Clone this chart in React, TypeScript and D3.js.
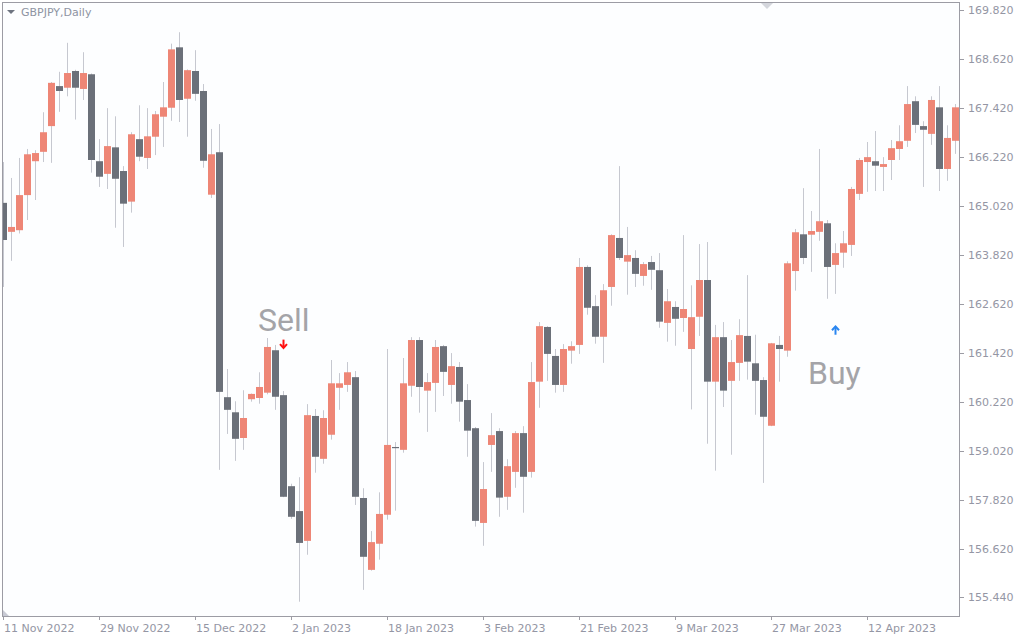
import React from "react";
import * as d3 from "d3";

// ---- data ----
const symbolLabel = "GBPJPY,Daily";
const firstDay = "2022-11-11";
const lastDayExclusive = "2023-04-28";

const openVals = [
  165.10, 164.39, 164.43, 165.29, 166.12, 166.35, 166.98, 167.96, 167.92, 168.33,
  167.89, 168.25, 166.12, 165.81, 166.46, 165.88, 165.13, 166.66, 166.20, 166.72,
  167.21, 167.43, 168.91, 167.65, 168.33, 167.84, 165.30, 166.34, 160.34, 159.97,
  159.34, 160.29, 160.32, 160.45, 161.49, 160.39, 158.16, 157.55, 156.82, 159.88,
  158.83, 159.42, 160.57, 160.64, 160.83, 157.87, 156.11, 156.75, 157.46, 159.12,
  159.05, 160.62, 161.74, 160.50, 160.69, 161.59, 160.64, 161.08, 160.27, 159.58,
  157.26, 159.17, 159.51, 157.90, 158.51, 159.46, 158.51, 160.72, 162.06, 161.35,
  160.64, 161.48, 161.62, 163.53, 162.57, 161.82, 163.04, 164.24, 163.66, 163.75,
  163.31, 163.65, 163.45, 162.16, 162.55, 162.28, 161.52, 162.31, 163.21, 160.72,
  161.81, 160.74, 161.18, 161.84, 161.17, 160.76, 159.64, 161.62, 161.48, 163.43,
  164.33, 164.32, 164.39, 164.60, 163.58, 163.88, 164.07, 165.32, 166.10, 166.12,
  165.98, 166.15, 166.42, 166.62, 167.59, 166.98, 166.79, 167.44, 165.93, 166.62,
];
const highVals = [
  166.10, 165.71, 166.20, 166.42, 166.39, 167.32, 168.06, 168.31, 169.02, 168.36,
  168.79, 168.27, 166.66, 167.42, 167.22, 166.00, 166.83, 167.49, 167.42, 167.35,
  168.06, 169.00, 169.28, 168.37, 168.84, 168.01, 166.91, 167.03, 161.03, 160.24,
  160.51, 160.43, 160.95, 161.79, 161.62, 160.49, 158.22, 158.38, 160.17, 160.05,
  160.02, 161.25, 160.93, 161.20, 160.98, 158.11, 157.06, 158.01, 161.52, 159.24,
  161.30, 161.81, 161.81, 160.93, 161.74, 161.62, 161.42, 161.20, 160.66, 159.61,
  158.75, 159.95, 159.58, 158.82, 159.51, 159.63, 161.20, 162.18, 162.08, 161.52,
  161.64, 161.71, 163.75, 163.57, 162.84, 163.11, 164.33, 166.00, 164.51, 163.94,
  163.65, 163.80, 163.87, 162.99, 162.69, 164.31, 163.08, 164.09, 164.14, 162.11,
  162.18, 161.74, 162.25, 163.33, 161.87, 160.83, 161.67, 161.84, 163.67, 164.46,
  165.46, 164.90, 166.42, 164.68, 164.11, 164.41, 165.49, 166.20, 166.59, 166.86,
  166.22, 166.64, 167.00, 167.96, 167.71, 167.10, 167.71, 167.96, 167.00, 167.52,
];
const lowVals = [
  163.04, 163.68, 164.35, 164.68, 165.17, 166.10, 166.08, 167.33, 167.71, 167.14,
  167.62, 165.84, 165.49, 165.44, 164.49, 164.02, 164.86, 166.12, 165.93, 166.27,
  166.47, 167.11, 167.08, 166.72, 167.60, 165.96, 165.22, 158.56, 159.44, 158.78,
  159.05, 160.23, 160.18, 160.41, 160.03, 157.89, 157.36, 155.33, 156.48, 158.49,
  158.71, 159.30, 160.03, 160.47, 157.70, 155.62, 156.09, 156.36, 157.34, 157.56,
  158.98, 160.35, 159.96, 159.49, 159.98, 160.37, 160.18, 159.74, 158.88, 157.17,
  156.70, 158.51, 157.41, 157.58, 158.12, 157.51, 158.37, 160.08, 160.74, 160.45,
  160.47, 161.16, 161.40, 162.36, 161.65, 161.18, 162.58, 163.70, 162.85, 163.04,
  163.07, 162.97, 162.04, 161.70, 161.60, 161.94, 160.04, 161.84, 159.20, 158.54,
  160.10, 158.93, 160.74, 160.77, 159.91, 158.24, 159.63, 160.72, 161.33, 162.95,
  163.60, 163.41, 164.17, 162.75, 162.87, 163.51, 163.80, 165.17, 165.37, 165.39,
  165.39, 165.66, 166.15, 166.47, 166.81, 165.49, 166.52, 165.39, 165.64, 166.30,
];
const closeVals = [
  164.19, 164.51, 165.29, 166.29, 166.32, 166.83, 168.04, 167.84, 168.28, 167.92,
  168.28, 166.15, 165.74, 166.49, 165.69, 165.08, 166.78, 166.23, 166.73, 167.27,
  167.44, 168.86, 167.62, 168.35, 167.77, 166.13, 166.29, 160.47, 160.03, 159.32,
  159.83, 160.42, 160.59, 161.57, 160.35, 157.90, 157.41, 156.77, 159.90, 158.88,
  159.83, 160.68, 160.68, 160.95, 157.90, 156.43, 156.79, 157.48, 159.17, 159.10,
  160.68, 161.74, 160.59, 160.71, 161.57, 160.96, 161.10, 160.23, 159.52, 157.31,
  158.09, 159.41, 157.88, 158.65, 159.46, 158.39, 160.71, 162.08, 161.40, 160.64,
  161.52, 161.59, 163.53, 162.53, 161.82, 162.96, 164.31, 163.75, 163.82, 163.36,
  163.60, 163.46, 162.19, 162.69, 162.26, 162.50, 162.30, 163.21, 160.72, 161.81,
  160.50, 161.20, 161.86, 161.21, 160.74, 159.86, 161.66, 161.52, 163.62, 164.38,
  163.75, 164.41, 164.65, 163.53, 163.87, 164.11, 165.44, 166.15, 166.22, 166.01,
  166.05, 166.44, 166.61, 167.52, 167.01, 166.89, 167.62, 165.93, 166.69, 167.44,
];

const priceTicks = [169.82, 168.62, 167.42, 166.22, 165.02, 163.82, 162.62, 161.42, 160.22, 159.02, 157.82, 156.62, 155.44];
const dateTickLabels = ["11 Nov 2022", "29 Nov 2022", "15 Dec 2022", "2 Jan 2023", "18 Jan 2023", "3 Feb 2023", "21 Feb 2023", "9 Mar 2023", "27 Mar 2023", "12 Apr 2023"];

const signalLabels = ["Sell", "Buy"];
const signalDates = ["2022-12-30", "2023-04-06"];
const signalPrices = [161.64, 161.98];

// ---- layout ----
const W = 1024;
const H = 640;
const plotLeft = 2;
const plotTop = 2;
const plotRight = 960;
const plotBottom = 616;

const BULL = "#EE8676";
const BEAR = "#6B7079";
const WICK = "#C6C8D0";
const AXIS = "#9C9CA4";
const TEXT = "#9496A4";

const fmtKey = d3.timeFormat("%Y-%m-%d");
const parseKey = d3.timeParse("%Y-%m-%d");
const parseLabel = d3.timeParse("%e %b %Y");

const days = d3
  .timeDays(parseKey(firstDay)!, parseKey(lastDayExclusive)!)
  .filter((d) => d.getDay() !== 0 && d.getDay() !== 6)
  .map(fmtKey);

export default function App() {
  const x = d3.scaleBand<string>().domain(days).range([plotLeft - 2.5, plotRight - 0.5]).padding(0);
  const y = d3.scaleLinear().domain([154.98, 170.02]).range([plotBottom, plotTop]);
  const bw = x.bandwidth();
  const cx = (k: string) => (x(k) as number) + bw / 2;

  const candles = days.map((k, i) => ({
    k,
    o: openVals[i],
    h: highVals[i],
    l: lowVals[i],
    c: closeVals[i],
  }));

  return (
    <svg
      width={W}
      height={H}
      style={{ position: "fixed", left: 0, top: 0, background: "#FFFFFF" }}
      fontFamily="'DejaVu Sans', sans-serif"
    >
      <defs>
        <clipPath id="plotClip">
          <rect x={plotLeft + 0.5} y={plotTop + 0.5} width={plotRight - plotLeft - 1} height={plotBottom - plotTop - 1} />
        </clipPath>
      </defs>
      <rect x={0} y={0} width={W} height={H} fill="#FFFFFF" />
      <rect x={plotLeft} y={plotTop} width={plotRight - plotLeft} height={plotBottom - plotTop} fill="#FDFEFF" />

      <g clipPath="url(#plotClip)">
        {candles.map((d) => (
          <line
            key={"w" + d.k}
            x1={cx(d.k)}
            x2={cx(d.k)}
            y1={y(d.h)}
            y2={y(d.l)}
            stroke={WICK}
            strokeWidth={1}
          />
        ))}
        {candles.map((d) => {
          const top = y(Math.max(d.o, d.c));
          const bot = y(Math.min(d.o, d.c));
          return (
            <rect
              key={"b" + d.k}
              x={(x(d.k) as number) + 0.5}
              y={top}
              width={bw - 1}
              height={Math.max(1.2, bot - top)}
              fill={d.c > d.o ? BULL : BEAR}
            />
          );
        })}
      </g>

      {/* signals */}
      {signalLabels.map((lab, i) => {
        const ax = cx(signalDates[i]);
        const ay = y(signalPrices[i]);
        const sell = lab === "Sell";
        const col = sell ? "#FF1010" : "#2A86F0";
        const dir = sell ? 1 : -1;
        return (
          <g key={lab}>
            <line x1={ax} x2={ax} y1={ay - 4.5 * dir} y2={ay + 3.5 * dir} stroke={col} strokeWidth={2} />
            <polyline
              points={`${ax - 3.5},${ay} ${ax},${ay + 3.8 * dir} ${ax + 3.5},${ay}`}
              fill="none"
              stroke={col}
              strokeWidth={2}
            />
            <text
              x={sell ? ax - 25.5 : ax - 27.5}
              y={sell ? ay - 13 : ay + 54}
              fontFamily="Roboto, 'Liberation Sans', sans-serif"
              fontSize={32}
              fill="#A4A4A8"
            >
              {lab}
            </text>
          </g>
        );
      })}

      {/* frame */}
      <rect
        x={plotLeft + 0.5}
        y={plotTop + 0.5}
        width={plotRight - plotLeft - 1}
        height={plotBottom - plotTop}
        fill="none"
        stroke={AXIS}
        strokeWidth={1}
      />

      {/* top marker and corner */}
      <path d={`M761,${plotTop + 1} L773,${plotTop + 1} L767,${plotTop + 7} Z`} fill="#D4D6DC" />
      <path d={`M${plotLeft + 1},${plotBottom - 6} L${plotLeft + 7},${plotBottom} L${plotLeft + 1},${plotBottom} Z`} fill="#C8CAD4" />

      {/* price axis */}
      {priceTicks.map((p) => (
        <g key={"p" + p}>
          <line x1={plotRight} x2={plotRight + 4} y1={Math.round(y(p)) + 0.5} y2={Math.round(y(p)) + 0.5} stroke={AXIS} />
          <text x={plotRight + 8} y={y(p) + 4} fontSize={11} fill={TEXT}>
            {p.toFixed(3)}
          </text>
        </g>
      ))}

      {/* time axis */}
      {dateTickLabels.map((lab) => {
        const k = fmtKey(parseLabel(lab)!);
        const tx = Math.round(cx(k) - 0.5) + 0.5;
        return (
          <g key={lab}>
            <line x1={tx} x2={tx} y1={plotBottom} y2={plotBottom + 4} stroke={AXIS} />
            <text x={tx + 0.5} y={632} fontSize={11} fill={TEXT}>
              {lab}
            </text>
          </g>
        );
      })}

      {/* symbol label */}
      <path d="M7,10 L15,10 L11,14 Z" fill="#6E7480" />
      <text x={21} y={16} fontSize={11} fill="#8E94A2">
        {symbolLabel}
      </text>
    </svg>
  );
}
